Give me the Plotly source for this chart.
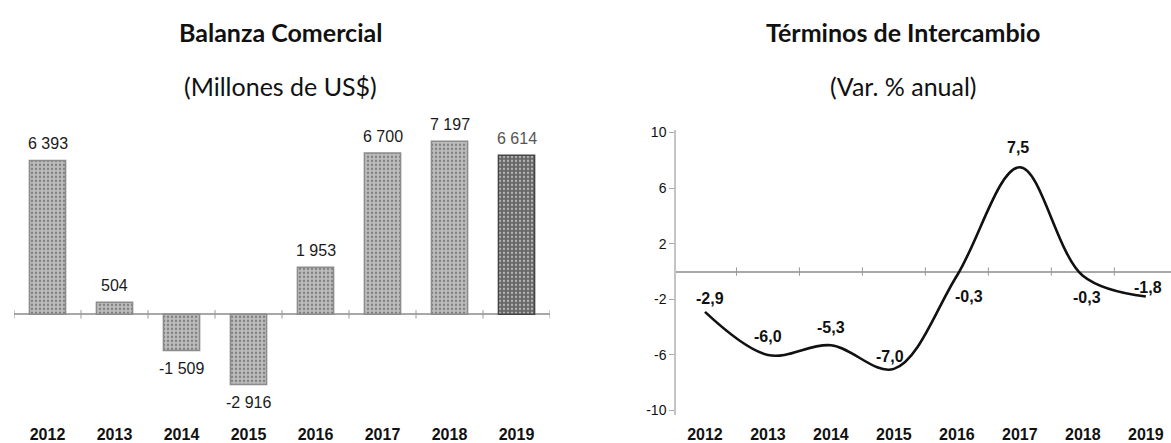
import plotly.graph_objects as go

# Balanza comercial (millones de US$)
years = ["2012", "2013", "2014", "2015", "2016", "2017", "2018", "2019"]
balanza = [6393, 504, -1509, -2916, 1953, 6700, 7197, 6614]

# Términos de intercambio (var. % anual)
terminos = [-2.9, -6.0, -5.3, -7.0, -0.3, 7.5, -0.3, -1.8]
y_ticks = [10, 6, 2, -2, -6, -10]

W, H = 1171, 443
idx = list(range(len(years)))


def fmt_miles(v):
    return f"{v:,}".replace(",", " ")


def fmt_pct(v):
    return f"{v:.1f}".replace(".", ",")


def px_x(p):
    return p / W


def px_y(p):
    return 1 - p / H


bar_colors = ["#bdbdbd"] * (len(years) - 1) + ["#666666"]
bar_lines = ["#8c8c8c"] * (len(years) - 1) + ["#454545"]

fig = go.Figure()

fig.add_trace(go.Bar(
    x=idx, y=balanza, xaxis="x", yaxis="y",
    marker=dict(color=bar_colors, line=dict(color=bar_lines, width=1.5),
                pattern=dict(shape=".", size=4, solidity=0.3,
                             fgcolor="#a0a0a0", fillmode="overlay")),
    hoverinfo="skip", showlegend=False,
))

# little tick marks along the zero line between categories
bounds = [i - 0.5 for i in range(len(years) + 1)]
fig.add_trace(go.Scatter(
    x=bounds, y=[0] * len(bounds), xaxis="x", yaxis="y", mode="markers",
    marker=dict(symbol="line-ns", size=6, line=dict(color="#9a9a9a", width=1)),
    hoverinfo="skip", showlegend=False,
))

fig.add_trace(go.Scatter(
    x=idx, y=terminos, xaxis="x2", yaxis="y2", mode="lines",
    line=dict(color="#111111", width=2.6, shape="spline", smoothing=1.0),
    hoverinfo="skip", showlegend=False,
))
bounds2 = [i + 0.5 for i in range(len(years))]
fig.add_trace(go.Scatter(
    x=bounds2, y=[0] * len(bounds2), xaxis="x2", yaxis="y2", mode="markers",
    marker=dict(symbol="line-ns", size=6, line=dict(color="#9a9a9a", width=1)),
    hoverinfo="skip", showlegend=False,
))

annotations = []
# bar value labels
for i, v in enumerate(balanza):
    annotations.append(dict(
        x=i, y=v, xref="x", yref="y", text=fmt_miles(v), showarrow=False,
        yshift=17 if v >= 0 else -18,
        font=dict(family="Arial", size=16,
                  color="#555555" if i == len(years) - 1 else "#1a1a1a"),
    ))

# line value labels, placed around each point
label_shift = [(5, 13), (0, 18), (0, 18), (-4, 12), (12, -21), (-2, 20), (4, -22), (2, 9)]
for i, v in enumerate(terminos):
    dx, dy = label_shift[i]
    annotations.append(dict(
        x=i, y=v, xref="x2", yref="y2", text=f"<b>{fmt_pct(v)}</b>",
        showarrow=False, xshift=dx, yshift=dy, yanchor="middle",
        font=dict(family="Arial", size=16, color="#111111"),
    ))

# panel titles
title_font = "Lato, Open Sans, sans-serif"
for cx, t1, t2 in [(280, "Balanza Comercial", "(Millones de US$)"),
                   (903, "Términos de Intercambio", "(Var. % anual)")]:
    annotations.append(dict(
        x=px_x(cx), y=px_y(27), xref="paper", yref="paper", text=f"<b>{t1}</b>",
        showarrow=False, xanchor="center", yanchor="middle",
        font=dict(family=title_font, size=25, color="#111111"),
    ))
    annotations.append(dict(
        x=px_x(cx), y=px_y(82), xref="paper", yref="paper", text=t2,
        showarrow=False, xanchor="center", yanchor="middle",
        font=dict(family=title_font, size=25, color="#111111"),
    ))

year_ticks = [f"<b>{y}</b>" for y in years]

fig.update_layout(
    width=W, height=H,
    margin=dict(l=0, r=0, t=0, b=0),
    paper_bgcolor="white", plot_bgcolor="white",
    bargap=0.46,
    annotations=annotations,
    xaxis=dict(
        domain=[px_x(14), px_x(550)], range=[-0.5, 7.5], anchor="y",
        tickvals=idx, ticktext=year_ticks, ticks="", showline=False,
        showgrid=False, zeroline=False, ticklabelstandoff=8,
        tickfont=dict(family="Arial", size=16, color="#111111"),
    ),
    yaxis=dict(
        domain=[px_y(418), px_y(120)], range=[-4204, 7959], anchor="x",
        showticklabels=False, ticks="", showgrid=False, showline=False,
        zeroline=True, zerolinecolor="#a8a8a8", zerolinewidth=1.5,
    ),
    xaxis2=dict(
        domain=[px_x(676), 1.0], range=[-0.46, 7.4], anchor="y2",
        tickvals=idx, ticktext=year_ticks, ticks="", showline=False,
        showgrid=False, zeroline=False, ticklabelstandoff=8,
        tickfont=dict(family="Arial", size=16, color="#111111"),
    ),
    yaxis2=dict(
        domain=[px_y(418), px_y(127)], range=[-10.35, 10.2], anchor="x2",
        tickvals=y_ticks, ticktext=[str(t) for t in y_ticks],
        ticks="outside", ticklen=5, tickcolor="#a8a8a8",
        showline=True, linecolor="#c4c4c4", linewidth=1.5,
        showgrid=False, zeroline=True, zerolinecolor="#a8a8a8", zerolinewidth=1.5,
        tickfont=dict(family="Arial", size=14, color="#111111"),
    ),
)

fig.write_html("out.html")
